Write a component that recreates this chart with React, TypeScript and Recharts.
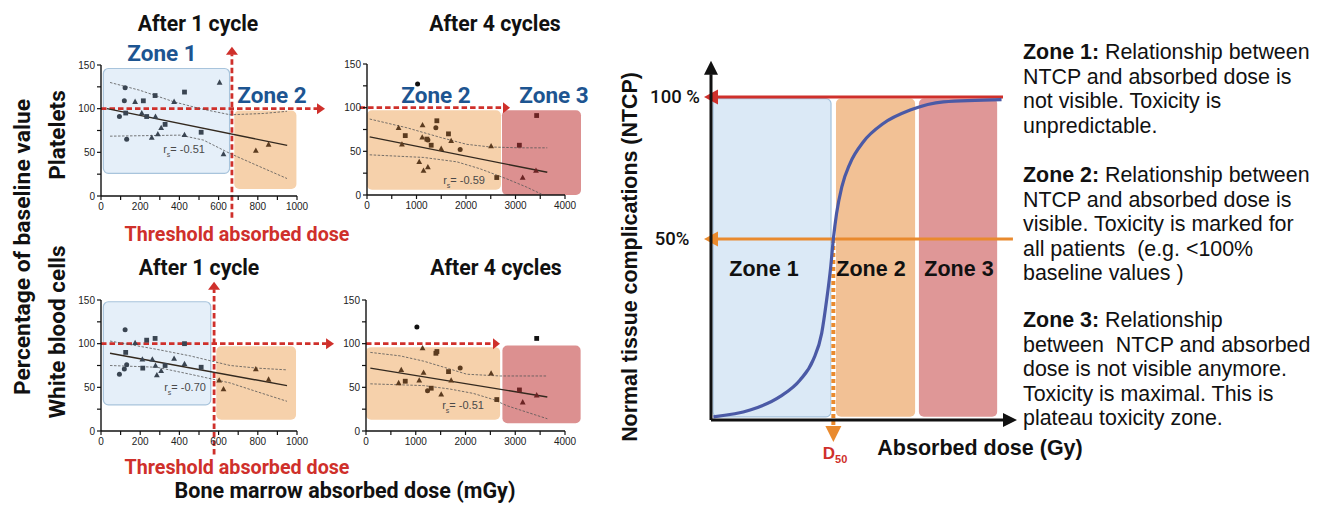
import React from 'react';
import {
  ScatterChart, Scatter, XAxis, YAxis, ZAxis, ReferenceArea, ReferenceLine,
  ComposedChart, Line,
} from 'recharts';

// ---------------- data ----------------
const yTicks = [0, 25, 50, 75, 100, 125, 150];
const yTickLabels = [0, 50, 100, 150];
const x1CycleTicks = [0, 100, 200, 300, 400, 500, 600, 700, 800, 900, 1000];
const x1CycleLabels = [0, 200, 400, 600, 800, 1000];
const x4CycleTicks = [0, 500, 1000, 1500, 2000, 2500, 3000, 3500, 4000];
const x4CycleLabels = [0, 1000, 2000, 3000, 4000];

// Platelets, after 1 cycle
const pl1Circles = [{ x: 123, y: 124 }, { x: 119, y: 109 }, { x: 94, y: 91 }, { x: 131, y: 65 }];
const pl1Squares = [{ x: 216, y: 109 }, { x: 276, y: 115 }, { x: 426, y: 119 }, { x: 126, y: 95 }, { x: 233, y: 91 }, { x: 327, y: 82 }, { x: 511, y: 73 }];
const pl1Triangles = [{ x: 174, y: 108 }, { x: 373, y: 108 }, { x: 605, y: 130 }, { x: 208, y: 95 }, { x: 278, y: 91 }, { x: 307, y: 78 }, { x: 259, y: 67 }, { x: 290, y: 71 }, { x: 426, y: 70 }, { x: 625, y: 48 }, { x: 790, y: 52 }, { x: 855, y: 59 }];
const pl1Fit = [{ x: 30, y: 100 }, { x: 950, y: 58 }];
const pl1Upper = [{ x: 46, y: 130 }, { x: 199, y: 121 }, { x: 370, y: 108 }, { x: 506, y: 100 }, { x: 659, y: 93 }, { x: 830, y: 94.5 }, { x: 949, y: 97 }];
const pl1Lower = [{ x: 46, y: 68.5 }, { x: 404, y: 69.7 }, { x: 523, y: 64 }, { x: 659, y: 48.6 }, { x: 796, y: 35 }, { x: 949, y: 20 }];

// Platelets, after 4 cycles
const pl4Circles = [{ x: 1022, y: 127 }, { x: 1391, y: 77 }, { x: 1230, y: 63 }, { x: 1882, y: 52 }];
const pl4Squares = [{ x: 773, y: 68 }, { x: 1411, y: 85 }, { x: 1210, y: 64 }, { x: 1646, y: 70 }, { x: 1297, y: 57 }, { x: 2621, y: 20 }, { x: 3078, y: 57 }, { x: 3427, y: 91 }];
const pl4Triangles = [{ x: 638, y: 77 }, { x: 706, y: 58 }, { x: 1122, y: 80 }, { x: 1116, y: 66 }, { x: 1700, y: 62 }, { x: 1499, y: 53 }, { x: 1055, y: 38 }, { x: 1142, y: 28 }, { x: 1230, y: 32 }, { x: 2507, y: 56 }, { x: 3414, y: 28 }, { x: 3145, y: 20 }];
const pl4Fit = [{ x: 54, y: 66.5 }, { x: 3642, y: 26 }];
const pl4Upper = [{ x: 54, y: 87 }, { x: 806, y: 77 }, { x: 1478, y: 66 }, { x: 2016, y: 58 }, { x: 2486, y: 55 }, { x: 3091, y: 54 }, { x: 3642, y: 54 }];
const pl4Lower = [{ x: 54, y: 46 }, { x: 1142, y: 43 }, { x: 1814, y: 38 }, { x: 2285, y: 30 }, { x: 2822, y: 18.5 }, { x: 3226, y: 9 }, { x: 3562, y: 0 }];

// White blood cells, after 1 cycle
const wbc1Circles = [{ x: 123, y: 116 }, { x: 131, y: 76 }, { x: 119, y: 71 }, { x: 94, y: 65 }];
const wbc1Squares = [{ x: 233, y: 104 }, { x: 276, y: 106 }, { x: 426, y: 100 }, { x: 126, y: 90 }, { x: 213, y: 72 }, { x: 327, y: 75 }, { x: 511, y: 73 }];
const wbc1Triangles = [{ x: 174, y: 101 }, { x: 211, y: 82 }, { x: 262, y: 82 }, { x: 373, y: 83 }, { x: 426, y: 77 }, { x: 278, y: 75 }, { x: 307, y: 69 }, { x: 285, y: 64 }, { x: 790, y: 71 }, { x: 603, y: 58 }, { x: 625, y: 48 }, { x: 855, y: 59 }];
const wbc1Fit = [{ x: 46, y: 89 }, { x: 949, y: 52 }];
const wbc1Upper = [{ x: 46, y: 103 }, { x: 285, y: 93.5 }, { x: 455, y: 86 }, { x: 659, y: 75 }, { x: 796, y: 72 }, { x: 949, y: 70 }];
const wbc1Lower = [{ x: 46, y: 75 }, { x: 285, y: 73 }, { x: 455, y: 65 }, { x: 659, y: 55 }, { x: 796, y: 45 }, { x: 949, y: 34 }];

// White blood cells, after 4 cycles
const wbc4Circles = [{ x: 1023, y: 119 }, { x: 1893, y: 72 }, { x: 1237, y: 46 }];
const wbc4Squares = [{ x: 3431, y: 106 }, { x: 1425, y: 91 }, { x: 1405, y: 89 }, { x: 1659, y: 68 }, { x: 789, y: 57 }, { x: 1311, y: 49 }, { x: 2629, y: 36 }, { x: 3084, y: 47 }];
const wbc4Triangles = [{ x: 1137, y: 95 }, { x: 709, y: 70 }, { x: 1157, y: 67 }, { x: 2515, y: 66 }, { x: 1070, y: 58 }, { x: 1712, y: 58 }, { x: 656, y: 55 }, { x: 1512, y: 42 }, { x: 3431, y: 41 }, { x: 3150, y: 33 }];
const wbc4Fit = [{ x: 87, y: 72 }, { x: 3645, y: 39 }];
const wbc4Upper = [{ x: 87, y: 90 }, { x: 689, y: 86 }, { x: 1157, y: 80 }, { x: 1625, y: 72 }, { x: 2027, y: 65 }, { x: 2696, y: 63 }, { x: 3645, y: 63 }];
const wbc4Lower = [{ x: 87, y: 54 }, { x: 1157, y: 52 }, { x: 1692, y: 48 }, { x: 2160, y: 43 }, { x: 2562, y: 36 }, { x: 2830, y: 29 }, { x: 3645, y: 14 }];

// NTCP sigmoid (schematic)
const ntcpDose = [0.8, 13.4, 23.6, 30.5, 35, 37.9, 39.6, 41, 41.9, 43, 44.8, 47.6, 52.2, 59, 68.2, 79.6, 99.5];
const ntcpValue = [0, 2.1, 6.3, 11.5, 17.8, 26.1, 36.5, 46.9, 55.6, 63.6, 71.9, 79.2, 86, 91.7, 95.9, 98.5, 99.2];
const d50Dose = 41.9;
const halfLevel = 55.6;

// ---------------- styles ----------------
const SANS = '"Liberation Sans", Arial, Helvetica, sans-serif';
const ROBOTO = 'Roboto, "Liberation Sans", Arial, sans-serif';
const RED = '#cf302b';
const ORANGE = '#e98a2e';
const ZONE_BLUE = '#1d5591';

const BLUE_Z = { fill: '#e5eff9', stroke: '#a8c4dc', mark: '#3a4552' };
const ORANGE_Z = { fill: '#f6d1ab', stroke: 'none', mark: '#5b3b1f' };
const RED_Z = { fill: '#dc9090', stroke: 'none', mark: '#6b2424' };

type Pt = { x: number; y: number };
type Zone = { x1: number; x2: number; y1: number; y2: number; fill: string; stroke: string; mark: string };

const makeMarker = (kind: string, zones: Zone[]) => (props: any) => {
  const { cx, cy, payload } = props;
  if (cx == null || cy == null) return <g />;
  const z = zones.find((q) => payload.x >= q.x1 && payload.x <= q.x2 && payload.y >= q.y1 && payload.y <= q.y2);
  const c = z ? z.mark : '#111';
  if (kind === 'circle') return <circle cx={cx} cy={cy} r={2.5} fill={c} />;
  if (kind === 'square') return <rect x={cx - 2.4} y={cy - 2.4} width={4.8} height={4.8} fill={c} />;
  return <polygon points={`${cx},${cy - 3.1} ${cx + 2.9},${cy + 2.2} ${cx - 2.9},${cy + 2.2}`} fill={c} />;
};

const roundRect = (rx: number, stroke: string, sw: number) => (p: any) => (
  <rect x={p.x} y={p.y} width={p.width} height={p.height} rx={rx} ry={rx} fill={p.fill} stroke={stroke} strokeWidth={sw} />
);

const arrowShape = (o: { color: string; width: number; dash?: string; headLen: number; headW: number; white?: boolean }) => (p: any) => {
  const { x1, y1, x2, y2 } = p;
  if ([x1, y1, x2, y2].some((v) => v == null || isNaN(v))) return <g />;
  const dx = x2 - x1, dy = y2 - y1;
  const L = Math.hypot(dx, dy) || 1;
  const ux = dx / L, uy = dy / L;
  const bx = x2 - ux * o.headLen, by = y2 - uy * o.headLen;
  const nx = -uy, ny = ux;
  return (
    <g>
      {o.white && <line x1={x1} y1={y1} x2={bx} y2={by} stroke="#fff" strokeWidth={o.width} />}
      <line x1={x1} y1={y1} x2={bx + ux * 0.5} y2={by + uy * 0.5} stroke={o.color} strokeWidth={o.width} strokeDasharray={o.dash} />
      <polygon points={`${x2},${y2} ${bx + (nx * o.headW) / 2},${by + (ny * o.headW) / 2} ${bx - (nx * o.headW) / 2},${by - (ny * o.headW) / 2}`} fill={o.color} />
    </g>
  );
};

const makeXTick = (labels: number[]) => (props: any) => {
  const { x, y, payload } = props;
  const v = payload.value;
  return (
    <g>
      <line x1={x} y1={y} x2={x} y2={y + 4} stroke="#111" strokeWidth={1.2} />
      {labels.includes(v) && (
        <text x={x} y={y + 14} textAnchor="middle" fontSize={10} fill="#222" fontFamily={SANS}>{v}</text>
      )}
    </g>
  );
};

const YTick = (props: any) => {
  const { x, y, payload } = props;
  const v = payload.value;
  return (
    <g>
      <line x1={x - 4} y1={y} x2={x} y2={y} stroke="#111" strokeWidth={1.2} />
      {yTickLabels.includes(v) && (
        <text x={x - 6} y={y + 3.5} textAnchor="end" fontSize={10} fill="#222" fontFamily={SANS}>{v}</text>
      )}
    </g>
  );
};

type SmallCfg = {
  px0: number; px1: number; py0: number; py1: number;
  xMax: number; xTicks: number[]; xLabels: number[];
  circles: Pt[]; squares: Pt[]; triangles: Pt[];
  fit: Pt[]; upper: Pt[]; lower: Pt[];
  zones: Zone[];
  vline?: { x: number; from: number; to: number };
  harrow: { from: number; to: number; head: number };
};

function SmallChart({ cfg }: { cfg: SmallCfg }) {
  const ML = 45, MR = 60, MT = 30, MB = 40;
  const W = cfg.px1 - cfg.px0 + ML + MR;
  const H = cfg.py1 - cfg.py0 + MT + MB;
  const dashRed = { color: RED, width: 2.8, dash: '5.5 3' };
  return (
    <div style={{ position: 'absolute', left: cfg.px0 - ML, top: cfg.py0 - MT }}>
      <ScatterChart width={W} height={H} margin={{ top: MT, right: MR, bottom: MB - 20, left: ML - 30 }}>
        <XAxis type="number" dataKey="x" domain={[0, cfg.xMax]} ticks={cfg.xTicks} interval={0} height={20}
          tickSize={0} tickMargin={0} tickLine={false} tick={makeXTick(cfg.xLabels)}
          axisLine={{ stroke: '#111', strokeWidth: 1.4 }} />
        <YAxis type="number" dataKey="y" domain={[0, 150]} ticks={yTicks} interval={0} width={30}
          tickSize={0} tickMargin={0} tickLine={false} tick={YTick}
          axisLine={{ stroke: '#111', strokeWidth: 1.4 }} />
        <ZAxis range={[30, 30]} />
        {cfg.zones.map((z, i) => (
          <ReferenceArea key={i} x1={z.x1} x2={z.x2} y1={z.y1} y2={z.y2} ifOverflow="visible"
            fill={z.fill} fillOpacity={1} shape={roundRect(5, z.stroke, 1.2)} />
        ))}
        <Scatter data={cfg.upper} line={{ stroke: '#555', strokeWidth: 0.8, strokeDasharray: '2.5 1.5' }} shape={() => <g />} isAnimationActive={false} legendType="none" />
        <Scatter data={cfg.lower} line={{ stroke: '#555', strokeWidth: 0.8, strokeDasharray: '2.5 1.5' }} shape={() => <g />} isAnimationActive={false} legendType="none" />
        <Scatter data={cfg.fit} line={{ stroke: '#33291f', strokeWidth: 1.4 }} shape={() => <g />} isAnimationActive={false} legendType="none" />
        <Scatter data={cfg.circles} shape={makeMarker('circle', cfg.zones)} isAnimationActive={false} />
        <Scatter data={cfg.squares} shape={makeMarker('square', cfg.zones)} isAnimationActive={false} />
        <Scatter data={cfg.triangles} shape={makeMarker('triangle', cfg.zones)} isAnimationActive={false} />
        <ReferenceLine segment={[{ x: cfg.harrow.from, y: 100 }, { x: cfg.harrow.to, y: 100 }]} ifOverflow="visible"
          shape={arrowShape({ ...dashRed, headLen: cfg.harrow.head, headW: 11 })} />
        {cfg.vline && (
          <ReferenceLine segment={[{ x: cfg.vline.x, y: cfg.vline.from }, { x: cfg.vline.x, y: cfg.vline.to }]} ifOverflow="visible"
            shape={arrowShape({ ...dashRed, headLen: 8, headW: 12 })} />
        )}
      </ScatterChart>
    </div>
  );
}

const cfgPl1: SmallCfg = {
  px0: 101, px1: 297, py0: 65, py1: 196, xMax: 1000, xTicks: x1CycleTicks, xLabels: x1CycleLabels,
  circles: pl1Circles, squares: pl1Squares, triangles: pl1Triangles, fit: pl1Fit, upper: pl1Upper, lower: pl1Lower,
  zones: [{ x1: 12, x2: 656, y1: 26, y2: 146, ...BLUE_Z }, { x1: 680, x2: 997, y1: 8, y2: 98, ...ORANGE_Z }],
  vline: { x: 668, from: -25, to: 171 }, harrow: { from: 0, to: 1143, head: 8 },
};
const cfgPl4: SmallCfg = {
  px0: 367, px1: 565, py0: 64, py1: 195, xMax: 4000, xTicks: x4CycleTicks, xLabels: x4CycleLabels,
  circles: pl4Circles, squares: pl4Squares, triangles: pl4Triangles, fit: pl4Fit, upper: pl4Upper, lower: pl4Lower,
  zones: [{ x1: 0, x2: 2707, y1: 6, y2: 97, ...ORANGE_Z }, { x1: 2727, x2: 4323, y1: 0, y2: 97, ...RED_Z }],
  harrow: { from: -150, to: 2889, head: 7 },
};
const cfgWbc1: SmallCfg = {
  px0: 101, px1: 297, py0: 300, py1: 431, xMax: 1000, xTicks: x1CycleTicks, xLabels: x1CycleLabels,
  circles: wbc1Circles, squares: wbc1Squares, triangles: wbc1Triangles, fit: wbc1Fit, upper: wbc1Upper, lower: wbc1Lower,
  zones: [{ x1: 12, x2: 560, y1: 30, y2: 148, ...BLUE_Z }, { x1: 588, x2: 995, y1: 13, y2: 97, ...ORANGE_Z }],
  vline: { x: 577, from: -27, to: 171 }, harrow: { from: 0, to: 1189, head: 8 },
};
const cfgWbc4: SmallCfg = {
  px0: 366, px1: 565, py0: 300, py1: 431, xMax: 4000, xTicks: x4CycleTicks, xLabels: x4CycleLabels,
  circles: wbc4Circles, squares: wbc4Squares, triangles: wbc4Triangles, fit: wbc4Fit, upper: wbc4Upper, lower: wbc4Lower,
  zones: [{ x1: 0, x2: 2696, y1: 13, y2: 96, ...ORANGE_Z }, { x1: 2742, x2: 4314, y1: 9, y2: 98, ...RED_Z }],
  harrow: { from: 0, to: 2693, head: 7 },
};

const ntcpTable = ntcpDose.map((d, i) => ({ dose: d, ntcp: ntcpValue[i] }));

function NtcpChart() {
  // plot area: x 711..1003 (0..100), y 97..420 (100..-1)
  const left = 600, top = 40, W = 425, H = 430;
  const margin = { top: 97 - top, right: left + W - 1003, bottom: top + H - 420, left: 711 - left };
  return (
    <div style={{ position: 'absolute', left, top }}>
      <ComposedChart width={W} height={H} data={ntcpTable} margin={margin}>
        <XAxis type="number" dataKey="dose" domain={[0, 100]} hide />
        <YAxis type="number" domain={[-1, 100]} hide />
        <ReferenceArea x1={0.7} x2={41.1} y1={0} y2={99.5} ifOverflow="visible" fill="#dbe9f6" fillOpacity={1} shape={roundRect(5, '#a3c1dc', 1.2)} />
        <ReferenceArea x1={42.8} x2={69.9} y1={0} y2={99.5} ifOverflow="visible" fill="#f2c195" fillOpacity={1} shape={roundRect(5, 'none', 0)} />
        <ReferenceArea x1={71.2} x2={98} y1={0} y2={99.5} ifOverflow="visible" fill="#df9797" fillOpacity={1} shape={roundRect(5, 'none', 0)} />
        <ReferenceLine segment={[{ x: d50Dose, y: halfLevel }, { x: d50Dose, y: -7.9 }]} ifOverflow="visible"
          shape={arrowShape({ color: ORANGE, width: 4, dash: '4 3', headLen: 16, headW: 16, white: true })} />
        <ReferenceLine segment={[{ x: 103.4, y: halfLevel }, { x: -2.4, y: halfLevel }]} ifOverflow="visible"
          shape={arrowShape({ color: ORANGE, width: 3, headLen: 14, headW: 15 })} />
        <ReferenceLine segment={[{ x: 100, y: 100 }, { x: -2.4, y: 100 }]} ifOverflow="visible"
          shape={arrowShape({ color: RED, width: 3, headLen: 14, headW: 15 })} />
        <Line type="monotone" dataKey="ntcp" stroke="#4b5aa6" strokeWidth={3.2} dot={false} isAnimationActive={false} />
        <ReferenceLine segment={[{ x: 0, y: -1 }, { x: 0, y: 111.3 }]} ifOverflow="visible"
          shape={arrowShape({ color: '#111', width: 3, headLen: 14, headW: 14 })} />
        <ReferenceLine segment={[{ x: 0, y: -1 }, { x: 104.8, y: -1 }]} ifOverflow="visible"
          shape={arrowShape({ color: '#111', width: 3, headLen: 14, headW: 14 })} />
      </ComposedChart>
    </div>
  );
}

function T({ x, y, size, weight = 700, color = '#111', family = ROBOTO, rotate = 0, children }: any) {
  return (
    <div style={{
      position: 'absolute', left: x, top: y, transform: `translate(-50%, -50%) rotate(${rotate}deg)`,
      fontSize: size, fontWeight: weight, color, fontFamily: family, whiteSpace: 'nowrap', lineHeight: 1,
    }}>{children}</div>
  );
}

function Rs({ x, y, v }: { x: number; y: number; v: string }) {
  return (
    <T x={x} y={y} size={11} weight={400} color="#4a4a4a" family={SANS}>
      r<sub style={{ fontSize: 7, verticalAlign: 'sub' }}>s</sub>= {v}
    </T>
  );
}

const para1 = [['Zone 1:', ' Relationship between'], ['', 'NTCP and absorbed dose is'], ['', 'not visible. Toxicity is'], ['', 'unpredictable.']];
const para2 = [['Zone 2:', ' Relationship between'], ['', 'NTCP and absorbed dose is'], ['', 'visible. Toxicity is marked for'], ['', 'all patients\u00a0 (e.g. <100%'], ['', 'baseline values )']];
const para3 = [['Zone 3:', ' Relationship'], ['', 'between\u00a0 NTCP and absorbed'], ['', 'dose is not visible anymore.'], ['', 'Toxicity is maximal. This is'], ['', 'plateau toxicity zone.']];

function Para({ top, lines }: { top: number; lines: string[][] }) {
  return (
    <div style={{ position: 'absolute', left: 1023, top, fontFamily: SANS, fontSize: 21.4, lineHeight: '24.5px', color: '#111', whiteSpace: 'pre' }}>
      {lines.map((l, i) => (
        <div key={i}>{l[0] && <b>{l[0]}</b>}{l[1]}</div>
      ))}
    </div>
  );
}

export default function App() {
  return (
    <div style={{ position: 'absolute', left: 0, top: 0, width: 1325, height: 505, background: '#fff', overflow: 'hidden' }}>
      <SmallChart cfg={cfgPl1} />
      <SmallChart cfg={cfgPl4} />
      <SmallChart cfg={cfgWbc1} />
      <SmallChart cfg={cfgWbc4} />
      <NtcpChart />

      <T x={198} y={24} size={21.2}>After 1 cycle</T>
      <T x={495} y={24} size={21.2}>After 4 cycles</T>
      <T x={199} y={268} size={21.2}>After 1 cycle</T>
      <T x={496} y={268} size={21.2}>After 4 cycles</T>

      <T x={162} y={53} size={22.5} color={ZONE_BLUE}>Zone 1</T>
      <T x={272} y={95} size={22.5} color={ZONE_BLUE}>Zone 2</T>
      <T x={436} y={95} size={22.5} color={ZONE_BLUE}>Zone 2</T>
      <T x={554} y={95} size={22.5} color={ZONE_BLUE}>Zone 3</T>

      <Rs x={184} y={151} v="-0.51" />
      <Rs x={464} y={182} v="-0.59" />
      <Rs x={185} y={389} v="-0.70" />
      <Rs x={463} y={407} v="-0.51" />

      <T x={237} y={235} size={19.7} color={RED}>Threshold absorbed dose</T>
      <T x={237} y={468} size={19.7} color={RED}>Threshold absorbed dose</T>
      <T x={345} y={491} size={21.5}>Bone marrow absorbed dose (mGy)</T>

      <T x={23} y={247} size={22.8} rotate={-90}>Percentage of baseline value</T>
      <T x={57} y={135} size={22.5} rotate={-90}>Platelets</T>
      <T x={57} y={332} size={22.5} rotate={-90}>White blood cells</T>

      <T x={631} y={257} size={21.4} family={SANS} rotate={-90}>Normal tissue complications (NTCP)</T>
      <T x={980} y={449} size={21.5} family={SANS}>Absorbed dose (Gy)</T>
      <T x={675} y={97} size={18.5} weight={500}>100 %</T>
      <T x={672} y={239} size={18.5} weight={500}>50%</T>
      <T x={764} y={270} size={21.5} family={SANS}>Zone 1</T>
      <T x={871} y={270} size={21.5} family={SANS}>Zone 2</T>
      <T x={959} y={270} size={21.5} family={SANS}>Zone 3</T>
      <T x={835} y={455} size={17} color={RED} family={SANS}>
        D<sub style={{ fontSize: 11, verticalAlign: 'sub' }}>50</sub>
      </T>

      <Para top={40} lines={para1} />
      <Para top={163} lines={para2} />
      <Para top={308} lines={para3} />
    </div>
  );
}
